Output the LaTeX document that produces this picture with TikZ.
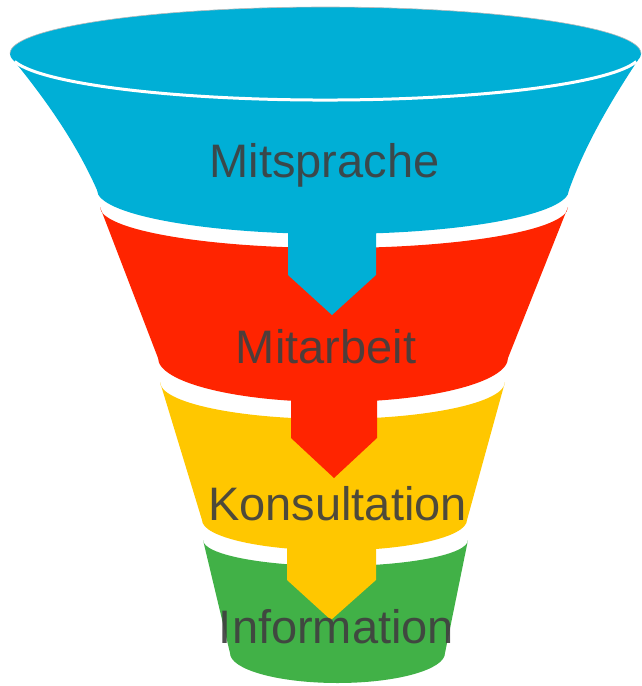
\documentclass[tikz,border=0pt]{standalone}
\usepackage{fontspec}
\setmainfont{Liberation Sans}
\definecolor{cblue}{HTML}{00AFD6}
\definecolor{cred}{HTML}{FF2400}
\definecolor{cyellow}{HTML}{FFC700}
\definecolor{cgreen}{HTML}{41B147}
\definecolor{ctext}{HTML}{404040}
\begin{document}
\begin{tikzpicture}[x=1pt,y=-1pt,
  lbl/.style={anchor=base,inner sep=0pt,text=ctext,text opacity=0.92,font=\fontsize{47}{56}\selectfont},
  rim/.style={draw=white,line width=3pt}]
\useasboundingbox (0,0) rectangle (641,686);
% green section
\fill[cgreen] (203,540) arc[start angle=180,end angle=0,x radius=132.5,y radius=26]
  -- (445,653) arc[start angle=0,end angle=180,x radius=107.5,y radius=30] -- cycle;
% yellow section + arrow
\fill[cyellow] (160,382) arc[start angle=180,end angle=0,x radius=172.5,y radius=37]
  -- (467,520) arc[start angle=0,end angle=180,x radius=132.5,y radius=30.5] -- cycle;
\fill[cyellow] (287,530) -- (287,580) -- (331,620) -- (376,580) -- (376,530) -- cycle;
% red section + arrow
\fill[cred] (100,207) arc[start angle=180,end angle=0,x radius=234,y radius=41]
  -- (508,358) arc[start angle=0,end angle=180,x radius=175,y radius=44] -- cycle;
\fill[cred] (291,380) -- (291,438) -- (334,478) -- (377,438) -- (377,380) -- cycle;
% blue section + arrow
\fill[cblue] (15,62) .. controls (50,105) and (78,147) .. (97,190)
  arc[start angle=180,end angle=0,x radius=236,y radius=44]
  .. controls (584,148) and (607,107) .. (638,60) -- cycle;
\fill[cblue] (288,215) -- (288,275) -- (332,315) -- (376,275) -- (376,215) -- cycle;
\fill[cblue] (325.5,53.5) ellipse[x radius=315.5,y radius=46.5];
\draw[gray!55,line width=0.6pt] (10,53.5) arc[start angle=180,end angle=360,x radius=315.5,y radius=46.5];
\draw[rim] (14.8,61.6) arc[start angle=170,end angle=10,x radius=315.5,y radius=46.5];
% labels
\node[lbl] (t1) at (324.5,177) {Mitsprache};
\node[lbl] (t2) at (326,363) {Mitarbeit};
\node[lbl] (t3) at (337.5,520) {Konsultation};
\node[lbl] (t4) at (336.5,643) {Information};
\end{tikzpicture}
\end{document}
